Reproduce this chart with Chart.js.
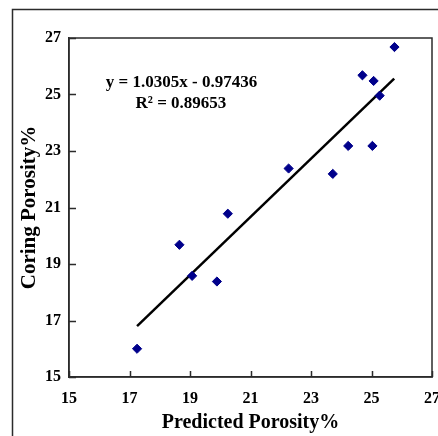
<!DOCTYPE html>
<html>
<head>
<meta charset="utf-8">
<script src="https://cdn.jsdelivr.net/npm/chart.js@4"></script>
<style>
  html, body { margin: 0; padding: 0; background: #fff; }
  #wrap { width: 438px; height: 436px; }
</style>
</head>
<body>
<div id="wrap"><canvas id="c" width="438" height="436"></canvas></div>
<script>
// Data
const predictedPorosity = [17.25, 18.65, 19.07, 19.89, 20.25, 22.26, 23.72, 24.23, 24.70, 25.07, 25.03, 25.27, 25.76];
const coringPorosity    = [16.00, 19.68, 18.58, 18.38, 20.78, 22.38, 22.19, 23.18, 25.68, 25.48, 23.18, 24.96, 26.68];
const trendX = [17.25, 25.75];
const trendY = [16.80, 25.56];
const equationText = 'y = 1.0305x - 0.97436';
const r2Text = 'R\u00B2 = 0.89653';
const axisMin = 15, axisMax = 27, axisStep = 2;
const xTitle = 'Predicted Porosity%';
const yTitle = 'Coring Porosity%';

const serif = '"Liberation Serif", "Times New Roman", serif';
const axisColor = '#2b2b2b';

const framePlugin = {
  id: 'frame',
  beforeDraw(chart) {
    const ctx = chart.ctx;
    ctx.save();
    ctx.fillStyle = '#fff';
    ctx.fillRect(0, 0, chart.width, chart.height);
    ctx.strokeStyle = axisColor;
    ctx.lineWidth = 1.5;
    ctx.strokeRect(12.5, 9.5, 600, 600);
    ctx.restore();
  },
  afterDraw(chart) {
    const {ctx, chartArea: a} = chart;
    const xs = chart.scales.x, ys = chart.scales.y;
    ctx.save();
    ctx.strokeStyle = axisColor;
    ctx.lineWidth = 1.5;
    ctx.strokeRect(a.left, a.top, a.right - a.left, a.bottom - a.top);
    // inward tick marks, placed by the library's scales
    ctx.beginPath();
    xs.ticks.forEach(t => {
      const px = Math.round(xs.getPixelForValue(t.value)) + 0.5;
      ctx.moveTo(px, a.bottom);
      ctx.lineTo(px, a.bottom - 6);
    });
    ys.ticks.forEach(t => {
      const py = Math.round(ys.getPixelForValue(t.value)) + 0.5;
      ctx.moveTo(a.left, py);
      ctx.lineTo(a.left + 7, py);
    });
    ctx.stroke();
    ctx.fillStyle = '#000';
    ctx.font = 'bold 17px ' + serif;
    ctx.textAlign = 'center';
    ctx.textBaseline = 'middle';
    ctx.fillText(equationText, xs.getPixelForValue(18.72), ys.getPixelForValue(25.41));
    ctx.fillText(r2Text, xs.getPixelForValue(18.7), ys.getPixelForValue(24.67));
    ctx.restore();
  }
};

new Chart(document.getElementById('c'), {
  type: 'scatter',
  data: {
    datasets: [
      {
        label: 'data',
        data: predictedPorosity.map((x, i) => ({x: x, y: coringPorosity[i]})),
        pointStyle: 'rectRot',
        pointRadius: 4.6,
        pointHoverRadius: 4.6,
        backgroundColor: '#00008b',
        borderColor: '#00008b',
        borderWidth: 1,
        order: 1
      },
      {
        label: 'trend',
        type: 'line',
        data: trendX.map((x, i) => ({x: x, y: trendY[i]})),
        borderColor: '#000',
        borderWidth: 2.5,
        pointRadius: 0,
        fill: false,
        order: 2
      }
    ]
  },
  options: {
    responsive: false,
    animation: false,
    events: [],
    layout: { padding: { top: 38, right: 6, bottom: 0, left: 0 } },
    plugins: { legend: { display: false }, tooltip: { enabled: false } },
    scales: {
      x: {
        type: 'linear',
        min: axisMin, max: axisMax,
        afterFit(s) { s.height = 59; s.paddingLeft = 0; s.paddingRight = 0; },
        ticks: {
          stepSize: axisStep,
          color: '#000',
          padding: 12,
          font: { family: serif, size: 16, weight: 'bold' }
        },
        grid: { display: true, drawOnChartArea: false, drawTicks: false },
        border: { display: true, color: axisColor, width: 1.5 },
        title: {
          display: true, text: xTitle, color: '#000',
          font: { family: serif, size: 20, weight: 'bold' },
          padding: { top: 0, bottom: 1 }
        }
      },
      y: {
        type: 'linear',
        min: axisMin, max: axisMax,
        afterFit(s) { s.width = 69; },
        ticks: {
          stepSize: axisStep,
          color: '#000',
          padding: 8,
          font: { family: serif, size: 16, weight: 'bold' }
        },
        grid: { display: true, drawOnChartArea: false, drawTicks: false },
        border: { display: true, color: axisColor, width: 1.5 },
        title: {
          display: true, text: yTitle, color: '#000',
          font: { family: serif, size: 21, weight: 'bold' },
          padding: { top: 17, bottom: 0 }
        }
      }
    }
  },
  plugins: [framePlugin]
});
</script>
</body>
</html>
